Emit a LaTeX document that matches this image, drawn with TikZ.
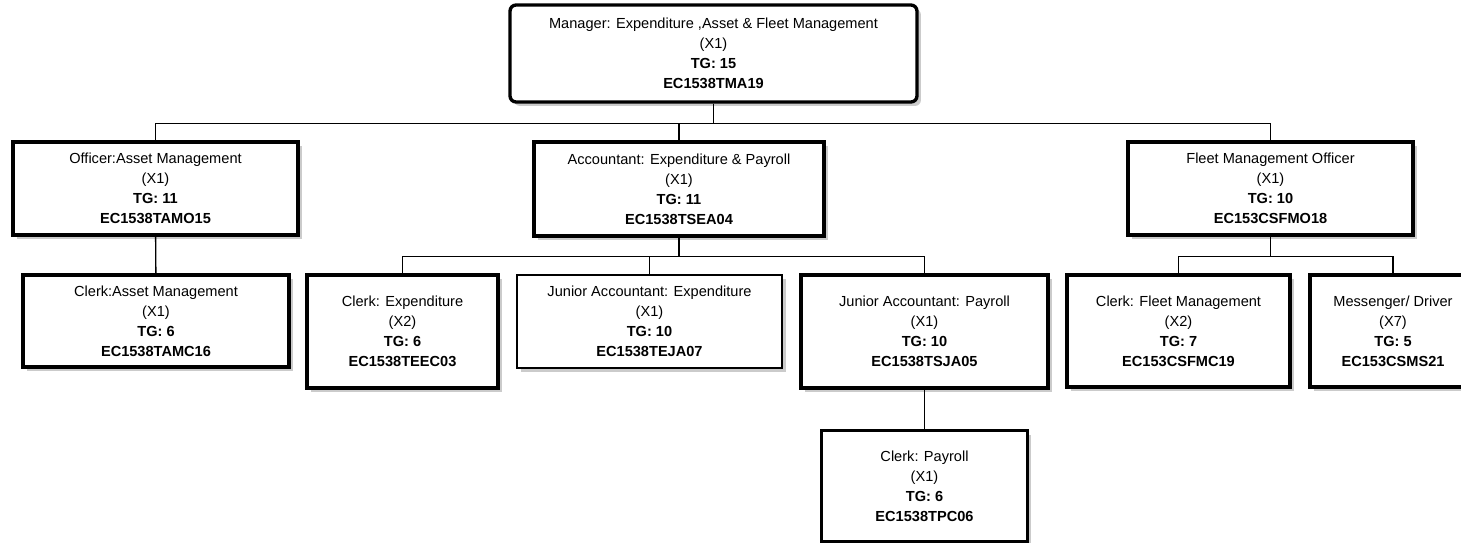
\documentclass[tikz,border=0pt]{standalone}
\usepackage{fontspec}
\setmainfont{Liberation Sans}
\usetikzlibrary{positioning,shadows}

\begin{document}
\begin{tikzpicture}[x=0.02cm, y=-0.02cm,
    every node/.style={font=\fontsize{8.3}{11.4}\selectfont, align=center},
    post/.style={draw, line width=1.9pt, fill=white, inner sep=1pt,
      drop shadow={shadow xshift=0.08cm, shadow yshift=-0.08cm, fill=black!40}},
    link/.style={line width=0.8pt}]
  \useasboundingbox (0,0) rectangle (1461,542);
  \fill[white] (0,0) rectangle (1461,542);
  \clip (0,0) rectangle (1461,542);

  % head of the section
  \node[post, rounded corners=0.12cm, minimum width=8.14cm, minimum height=1.94cm] (mgr) at (713.5,53.5)
    {Manager: Expenditure ,Asset \& Fleet Management\\(X1)\\\textbf{TG: 15}\\\textbf{EC1538TMA19}};

  % second level
  \node[post, minimum width=5.7cm, minimum height=1.86cm] (offAM) at (155.5,188.5)
    {Officer:Asset Management\\(X1)\\\textbf{TG: 11}\\\textbf{EC1538TAMO15}};
  \node[post, minimum width=5.8cm, minimum height=1.88cm] (acct) at (679,189)
    {Accountant: Expenditure \& Payroll\\(X1)\\\textbf{TG: 11}\\\textbf{EC1538TSEA04}};
  \node[post, minimum width=5.7cm, minimum height=1.86cm] (fmo) at (1270.5,188.5)
    {Fleet Management Officer\\(X1)\\\textbf{TG: 10}\\\textbf{EC153CSFMO18}};

  % third level
  \node[post, minimum width=5.32cm, minimum height=1.84cm] (clkAM) at (156,321)
    {Clerk:Asset Management\\(X1)\\\textbf{TG: 6}\\\textbf{EC1538TAMC16}};
  \node[post, minimum width=3.82cm, minimum height=2.26cm] (clkExp) at (402.5,331.5)
    {Clerk: Expenditure\\(X2)\\\textbf{TG: 6}\\\textbf{EC1538TEEC03}};
  \node[post, line width=1.3pt, minimum width=5.3cm, minimum height=1.86cm] (jaExp) at (649.5,321.5)
    {Junior Accountant: Expenditure\\(X1)\\\textbf{TG: 10}\\\textbf{EC1538TEJA07}};
  \node[post, minimum width=4.94cm, minimum height=2.26cm] (jaPay) at (924.5,331.5)
    {Junior Accountant: Payroll\\(X1)\\\textbf{TG: 10}\\\textbf{EC1538TSJA05}};
  \node[post, minimum width=4.46cm, minimum height=2.24cm] (clkFl) at (1178.5,331)
    {Clerk: Fleet Management\\(X2)\\\textbf{TG: 7}\\\textbf{EC153CSFMC19}};
  \node[post, minimum width=3.32cm, minimum height=2.24cm] (msg) at (1393,331)
    {Messenger/ Driver\\(X7)\\\textbf{TG: 5}\\\textbf{EC153CSMS21}};

  % fourth level
  \node[post, minimum width=4.12cm, minimum height=2.22cm] (clkPay) at (924.5,486)
    {Clerk: Payroll\\(X1)\\\textbf{TG: 6}\\\textbf{EC1538TPC06}};

  % reporting lines
  \draw[link] (mgr.south) -- ++(0,20) -| (offAM.north);
  \draw[link] (mgr.south) -- ++(0,20) -| (acct.north);
  \draw[link] (mgr.south) -- ++(0,20) -| (fmo.north);
  \draw[link] (offAM) -- (clkAM);
  \draw[link] (acct.south) -- ++(0,19) -| (clkExp.north);
  \draw[link] (acct.south) -- ++(0,19) -| (jaExp.north);
  \draw[link] (acct.south) -- ++(0,19) -| (jaPay.north);
  \draw[link] (jaPay) -- (clkPay);
  \draw[link] (fmo.south) -- ++(0,20) -| (clkFl.north);
  \draw[link] (fmo.south) -- ++(0,20) -| (msg.north);
\end{tikzpicture}
\end{document}
